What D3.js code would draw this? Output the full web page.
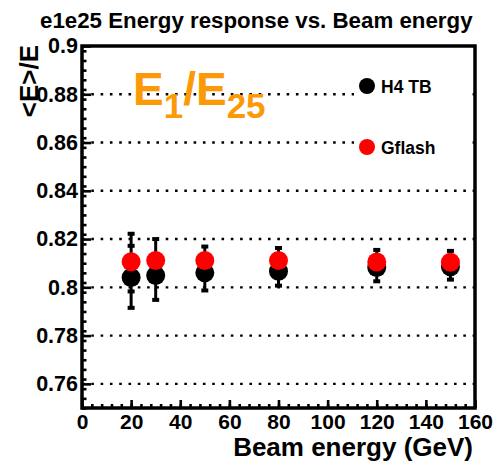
<!DOCTYPE html>
<html><head><meta charset="utf-8">
<script src="https://cdn.jsdelivr.net/npm/d3@7"></script>
<style>
body{margin:0;background:#fff;}
svg{display:block;font-family:"Liberation Sans",Arial,Helvetica,sans-serif;font-weight:bold;}
</style></head>
<body>
<script>
// ---- data ----
const energies = [20, 30, 50, 80, 120, 150];
const h4tb = [0.8041, 0.8049, 0.8060, 0.8067, 0.8082, 0.8085];
const h4tbErrHigh = [0.8222, 0.8200, 0.8169, 0.8163, 0.8155, 0.8151];
const h4tbErrLow = [0.7915, 0.7948, 0.7987, 0.8007, 0.8025, 0.8032];
const h4tbInnerHigh = [0.8172, null, null, null, null, null];
const h4tbInnerLow = [0.7983, null, null, null, null, null];
const gflash = [0.8106, 0.8111, 0.8111, 0.8111, 0.8105, 0.8104];
const xTicks = [0, 20, 40, 60, 80, 100, 120, 140, 160];
const yTicks = [0.76, 0.78, 0.80, 0.82, 0.84, 0.86, 0.88, 0.90];
const yGrid = [0.76, 0.78, 0.80, 0.82, 0.84, 0.86, 0.88];
const seriesNames = ["H4 TB", "Gflash"];
const titleText = "e1e25 Energy response vs. Beam energy";

const W = 493, H = 463;
const L = 82, R = 475, T = 46, B = 408;
const svg = d3.select("body").append("svg").attr("width", W).attr("height", H);

const x = d3.scaleLinear().domain([0, 160]).range([L, R]);
const y = d3.scaleLinear().domain([0.75, 0.90]).range([B, T]);

// grid
svg.append("g").selectAll("line").data(yGrid).join("line")
  .attr("x1", L).attr("x2", R)
  .attr("y1", d => y(d)).attr("y2", d => y(d))
  .attr("stroke", "#000").attr("stroke-width", 2.4)
  .attr("stroke-dasharray", "2.6,6.7");

// minor ticks
const minorX = d3.range(0, 160.001, 4);
const minorY = d3.range(0, 38).map(i => +(0.75 + i * 0.004).toFixed(4)).filter(v => v <= 0.9);
svg.append("g").attr("transform", `translate(0,${B})`)
  .call(d3.axisBottom(x).tickValues(minorX).tickSize(-4).tickFormat(""))
  .call(g => g.select(".domain").remove())
  .selectAll("line").attr("stroke-width", 2.6);
svg.append("g").attr("transform", `translate(${L},0)`)
  .call(d3.axisLeft(y).tickValues(minorY).tickSize(-4.5).tickFormat(""))
  .call(g => g.select(".domain").remove())
  .selectAll("line").attr("stroke-width", 2.6);

// major axes
const xAxis = svg.append("g").attr("transform", `translate(0,${B})`)
  .call(d3.axisBottom(x).tickValues(xTicks).tickSize(-8).tickPadding(6).tickFormat(d3.format("d")));
xAxis.select(".domain").remove();
xAxis.selectAll("line").attr("stroke-width", 2.6);
xAxis.selectAll("text").attr("font-size", 21).attr("font-weight", "bold")
  .attr("font-family", "Liberation Sans, Arial, sans-serif").attr("dy", "0.71em").attr("y", 6);

const yAxis = svg.append("g").attr("transform", `translate(${L},0)`)
  .call(d3.axisLeft(y).tickValues(yTicks).tickSize(-9).tickPadding(4).tickFormat(d => d3.format("")(+d.toFixed(2))));
yAxis.select(".domain").remove();
yAxis.selectAll("line").attr("stroke-width", 2.6);
yAxis.selectAll("text").attr("font-size", 21.5).attr("font-weight", "bold")
  .attr("font-family", "Liberation Sans, Arial, sans-serif");

// frame
svg.append("rect").attr("x", L).attr("y", T).attr("width", R - L).attr("height", B - T)
  .attr("fill", "none").attr("stroke", "#000").attr("stroke-width", 3.5);

// H4 TB error bars
const eb = svg.append("g");
energies.forEach((e, i) => {
  const cx = x(e);
  eb.append("line").attr("x1", cx).attr("x2", cx)
    .attr("y1", y(h4tbErrHigh[i])).attr("y2", y(h4tbErrLow[i]))
    .attr("stroke", "#000").attr("stroke-width", 3);
  [h4tbErrHigh[i], h4tbErrLow[i], h4tbInnerHigh[i], h4tbInnerLow[i]].forEach(v => {
    if (v == null) return;
    eb.append("rect").attr("x", cx - 3.5).attr("y", y(v) - 2).attr("width", 7).attr("height", 4).attr("fill", "#000");
  });
});

// markers
svg.append("g").selectAll("circle").data(energies).join("circle")
  .attr("cx", d => x(d)).attr("cy", (d, i) => y(h4tb[i])).attr("r", 9.5).attr("fill", "#000");
svg.append("g").selectAll("circle").data(energies).join("circle")
  .attr("cx", d => x(d)).attr("cy", (d, i) => y(gflash[i])).attr("r", 9.5).attr("fill", "#ff0000");

// legend (white box hides grid)
svg.append("rect").attr("x", 354).attr("y", 68).attr("width", 114).attr("height", 98).attr("fill", "#fff");
const leg = [{name: seriesNames[0], color: "#000", y: 86}, {name: seriesNames[1], color: "#ff0000", y: 147}];
leg.forEach(l => {
  svg.append("circle").attr("cx", 367).attr("cy", l.y).attr("r", 8).attr("fill", l.color);
  svg.append("text").attr("x", 381).attr("y", l.y + 7).attr("font-size", 17.5).attr("fill", "#000").text(l.name);
});

// orange label
const lab = svg.append("text").attr("x", 133).attr("y", 105).attr("fill", "#fb9a06").attr("font-size", 46);
lab.append("tspan").text("E");
lab.append("tspan").attr("font-size", 35).attr("dy", 13).text("1");
lab.append("tspan").attr("dy", -13).text("/E");
lab.append("tspan").attr("font-size", 35).attr("dy", 13).text("25");

// title
svg.append("text").attr("x", 40).attr("y", 28).attr("font-size", 22.3).text(titleText);

// axis titles
svg.append("text").attr("x", 473).attr("y", 456).attr("text-anchor", "end").attr("font-size", 26).text("Beam energy (GeV)");
svg.append("text").attr("transform", "translate(38,45) rotate(-90)").attr("text-anchor", "end").attr("font-size", 26).text("<E>/E");
</script>
</body></html>
